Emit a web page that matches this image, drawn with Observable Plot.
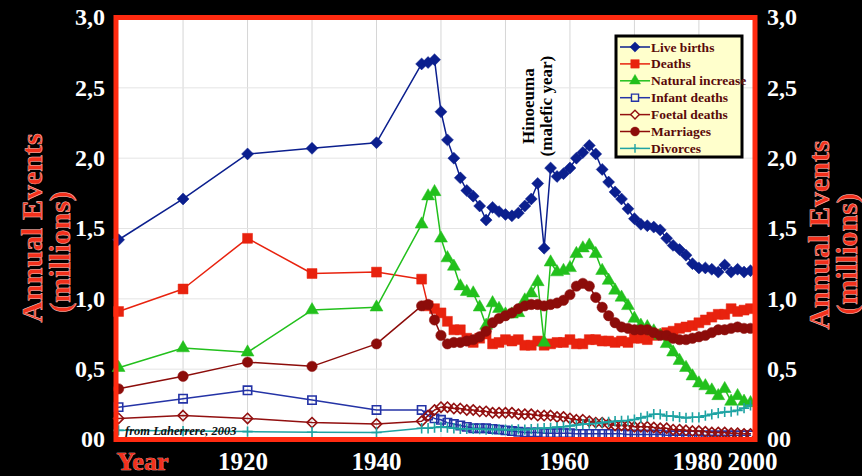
<!DOCTYPE html>
<html><head><meta charset="utf-8">
<script src="https://cdn.jsdelivr.net/npm/d3@7"></script>
<script src="https://cdn.jsdelivr.net/npm/@observablehq/plot@0.6"></script>
<style>html,body{margin:0;padding:0;background:#000;overflow:hidden;}</style>
</head><body><div id="chart"></div>
<script>
const years = [1900,1910,1920,1930,1940,
1947,1948,1949,1950,1951,1952,1953,1954,1955,1956,
1957,1958,1959,1960,1961,1962,1963,1964,1965,1966,
1967,1968,1969,1970,1971,1972,1973,1974,1975,1976,
1977,1978,1979,1980,1981,1982,1983,1984,1985,1986,
1987,1988,1989,1990,1991,1992,1993,1994,1995,1996,
1997,1998];
const liveBirths = [1.42,1.71,2.03,2.07,2.11,
2.67,2.68,2.70,2.33,2.13,2.00,1.86,1.77,1.73,1.66,
1.56,1.65,1.62,1.60,1.59,1.61,1.66,1.71,1.82,1.36,
1.93,1.87,1.89,1.93,2.00,2.04,2.09,2.03,1.92,1.83,
1.76,1.71,1.64,1.57,1.53,1.52,1.51,1.49,1.43,1.38,
1.35,1.31,1.25,1.22,1.22,1.21,1.19,1.24,1.19,1.21,
1.19,1.20];
const deaths = [0.91,1.07,1.43,1.18,1.19,
1.14,0.95,0.93,0.90,0.84,0.78,0.78,0.72,0.69,0.72,
0.75,0.68,0.69,0.71,0.70,0.71,0.67,0.67,0.70,0.67,
0.68,0.69,0.69,0.71,0.68,0.68,0.71,0.71,0.70,0.70,
0.69,0.70,0.69,0.72,0.72,0.71,0.74,0.75,0.76,0.77,
0.79,0.80,0.81,0.83,0.85,0.87,0.89,0.89,0.93,0.91,
0.92,0.93];
const naturalIncrease = [0.51,0.65,0.62,0.92,0.94,
1.53,1.73,1.76,1.43,1.29,1.23,1.09,1.05,1.04,0.94,
0.81,0.97,0.93,0.89,0.89,0.90,0.99,1.04,1.12,0.69,
1.26,1.19,1.20,1.22,1.32,1.36,1.38,1.32,1.20,1.13,
1.06,1.01,0.95,0.86,0.81,0.80,0.77,0.74,0.68,0.62,
0.56,0.51,0.45,0.40,0.38,0.35,0.31,0.36,0.27,0.31,
0.27,0.26];
const infantDeaths = [0.23,0.29,0.35,0.28,0.21,
0.21,0.17,0.15,0.14,0.12,0.11,0.10,0.09,0.08,0.08,
0.08,0.075,0.07,0.065,0.06,0.055,0.05,0.05,0.05,0.045,
0.045,0.045,0.045,0.045,0.04,0.04,0.04,0.04,0.04,0.04,
0.04,0.04,0.035,0.035,0.035,0.035,0.035,0.035,0.03,0.03,
0.03,0.03,0.03,0.03,0.03,0.03,0.03,0.03,0.03,0.03,
0.03,0.03];
const foetalDeaths = [0.15,0.17,0.15,0.12,0.11,
0.13,0.17,0.21,0.23,0.23,0.22,0.22,0.21,0.21,0.20,
0.20,0.19,0.19,0.19,0.19,0.18,0.18,0.18,0.17,0.17,
0.17,0.16,0.16,0.15,0.14,0.14,0.13,0.12,0.12,0.11,
0.10,0.10,0.10,0.09,0.09,0.09,0.085,0.08,0.08,0.07,
0.07,0.065,0.06,0.06,0.055,0.05,0.05,0.05,0.045,0.045,
0.04,0.04];
const marriages = [0.36,0.45,0.55,0.52,0.68,
0.95,0.96,0.85,0.74,0.68,0.69,0.69,0.70,0.71,0.73,
0.77,0.83,0.86,0.88,0.90,0.93,0.95,0.96,0.96,0.95,
0.96,0.97,0.99,1.03,1.09,1.11,1.09,1.01,0.94,0.88,
0.83,0.80,0.79,0.78,0.78,0.78,0.76,0.74,0.74,0.72,
0.71,0.71,0.72,0.73,0.74,0.76,0.78,0.78,0.79,0.80,
0.79,0.79];
const divorces = [0.065,0.06,0.056,0.052,0.05,
0.08,0.08,0.085,0.09,0.085,0.08,0.076,0.076,0.076,0.073,
0.071,0.071,0.072,0.07,0.07,0.072,0.07,0.073,0.078,0.08,
0.083,0.088,0.091,0.096,0.103,0.109,0.112,0.114,0.12,0.125,
0.13,0.133,0.135,0.142,0.154,0.164,0.18,0.179,0.167,0.166,
0.159,0.154,0.158,0.158,0.169,0.179,0.188,0.196,0.199,0.207,
0.223,0.243];
const seriesNames = ["Live births","Deaths","Natural increase","Infant deaths","Foetal deaths","Marriages","Divorces"];
const seriesValues = [liveBirths, deaths, naturalIncrease, infantDeaths, foetalDeaths, marriages, divorces];
const yTicks = [0,0.5,1,1.5,2,2.5,3];
const gridYears = [1910,1920,1930,1940,1950,1960,1970,1980,1990];
const xLabels = ["Year","1920","1940","1960","1980","2000"];
const xLabelYears = [1903.7,1919.3,1940,1969.1,1989.8,1998.3];
const yTitle = ["Annual Events","(millions)"];
const annotation = [{year:1966, value:2.37, text:"Hinoeuma\n(malefic year)"}];
const credit = ["from Laherrere, 2003"];

// styles (kept out of the data)
const RED = "#f2301c";
const styles = {
  "Live births":      {color:"#0b1f8e", symbol:"diamond2", d3s:d3.symbolDiamond2, r:5.4, filled:true},
  "Deaths":           {color:"#e8220e", symbol:"square",   d3s:d3.symbolSquare,   r:5.6, filled:true},
  "Natural increase": {color:"#22c01c", symbol:"triangle", d3s:d3.symbolTriangle, r:4.8, filled:true},
  "Infant deaths":    {color:"#2433a6", symbol:"square2",  d3s:d3.symbolSquare2,  r:5.3, filled:false},
  "Foetal deaths":    {color:"#921010", symbol:"diamond2", d3s:d3.symbolDiamond2, r:4.6, filled:false},
  "Marriages":        {color:"#8c0c0a", symbol:"circle",   d3s:d3.symbolCircle,   r:5.2, filled:true},
  "Divorces":         {color:"#1ea3a3", symbol:"plus",     d3s:d3.symbolPlus,     r:3.4, filled:false}
};

const rows = seriesNames.flatMap((name, i) => years.map((yr, j) => ({series:name, year:yr, value:seriesValues[i][j]})));
const seriesMarks = seriesNames.flatMap(name => {
  const s = styles[name];
  const data = rows.filter(d => d.series === name);
  return [
    Plot.line(data, {x:"year", y:"value", stroke:s.color, strokeWidth:1.5}),
    Plot.dot(data, {x:"year", y:"value", symbol:s.symbol, r:s.r,
      fill: s.filled ? s.color : "none", stroke:s.color, strokeWidth: s.filled ? 0.5 : 1.6})
  ];
});

const fmt = d => d === 0 ? "00" : d.toFixed(1).replace(".", ",");
const serif = "'Liberation Serif','Times New Roman',serif";

const chart = Plot.plot({
  width: 862, height: 476,
  marginLeft: 115.5, marginRight: 107.5, marginTop: 17, marginBottom: 37,
  style: {background:"#000", color:"#fff", fontFamily:serif, overflow:"visible"},
  x: {domain:[1899.6, 1998.7], axis:null},
  y: {domain:[0,3]},
  marks: [
    Plot.frame({fill:"#fff"}),
    Plot.ruleX(gridYears, {stroke:"#d6d6d6", strokeWidth:1}),
    Plot.ruleY(yTicks.filter(t => t > 0 && t < 3), {stroke:"#e4e4e4", strokeWidth:1}),
    ...seriesMarks,
    Plot.text(annotation, {x:"year", y:"value", text:"text", rotate:-90, dx:-7, fontSize:17, fontWeight:"bold", fill:"#000", lineHeight:1.06, textAnchor:"middle", lineAnchor:"middle"}),
    Plot.text(credit, {frameAnchor:"bottom-left", dx:9, dy:-9, text:d=>d, textAnchor:"start", lineAnchor:"middle", fontSize:12.5, fontStyle:"italic", fontWeight:"bold", fill:"#111"}),
    Plot.frame({stroke:"#ff2a10", strokeWidth:5}),
    Plot.axisY({ticks:yTicks, anchor:"left", tickSize:0, tickPadding:11, tickFormat:fmt, fontSize:24, fontWeight:"bold", color:"#fff", label:null}),
    Plot.axisY({ticks:yTicks, anchor:"right", tickSize:0, tickPadding:12, tickFormat:fmt, fontSize:24, fontWeight:"bold", color:"#fff", label:null}),
    Plot.text(xLabels.filter(d => d !== "Year"), {x:d => xLabelYears[xLabels.indexOf(d)], frameAnchor:"bottom", dy:22, text:d=>d, fontSize:25, fontWeight:"bold", fill:"#fff", lineAnchor:"middle"}),
    Plot.text(xLabels.filter(d => d === "Year"), {x:d => xLabelYears[xLabels.indexOf(d)], frameAnchor:"bottom", dy:22, text:d=>d, fontSize:26, fontWeight:"bold", fill:RED, stroke:"#ffc8c0", strokeWidth:0.6, lineAnchor:"middle"})
  ]
});
document.getElementById("chart").appendChild(chart);

// Axis titles (rotated), left and right
const svg = d3.select(chart);
const titles = svg.append("g").attr("font-family", serif).attr("font-weight", "bold").attr("font-size", 30)
  .attr("fill", RED).attr("stroke", "#ffc8c0").attr("stroke-width", 0.5).attr("text-anchor", "middle");
[[42,228,0],[70,252,1],[829,235,0],[857,254,1]].forEach(([x,y,i]) => {
  titles.append("text").attr("transform", `translate(${x},${y}) rotate(-90)`).text(yTitle[i]);
});

// Legend box
const lg = svg.append("g").attr("font-family", serif).attr("text-anchor", "start");
lg.append("rect").attr("x",616).attr("y",36).attr("width",126).attr("height",121)
  .attr("fill","#ffffcc").attr("stroke","#000").attr("stroke-width",3);
seriesNames.forEach((name, i) => {
  const s = styles[name];
  const y = 47 + i * 16.9;
  lg.append("line").attr("x1",620).attr("x2",650).attr("y1",y).attr("y2",y).attr("stroke",s.color).attr("stroke-width",1.5);
  lg.append("path").attr("transform",`translate(635,${y})`)
    .attr("d", d3.symbol(s.d3s, Math.PI * (s.r*0.85) ** 2)())
    .attr("fill", s.filled ? s.color : "#ffffcc").attr("stroke", s.color).attr("stroke-width", s.filled ? 0.5 : 1.4);
  lg.append("text").attr("x",651).attr("y",y+4.5).attr("font-size",13.5).attr("font-weight","bold")
    .attr("text-anchor","start").attr("fill","#5a0a0a").text(name);
});
</script>
</body></html>
